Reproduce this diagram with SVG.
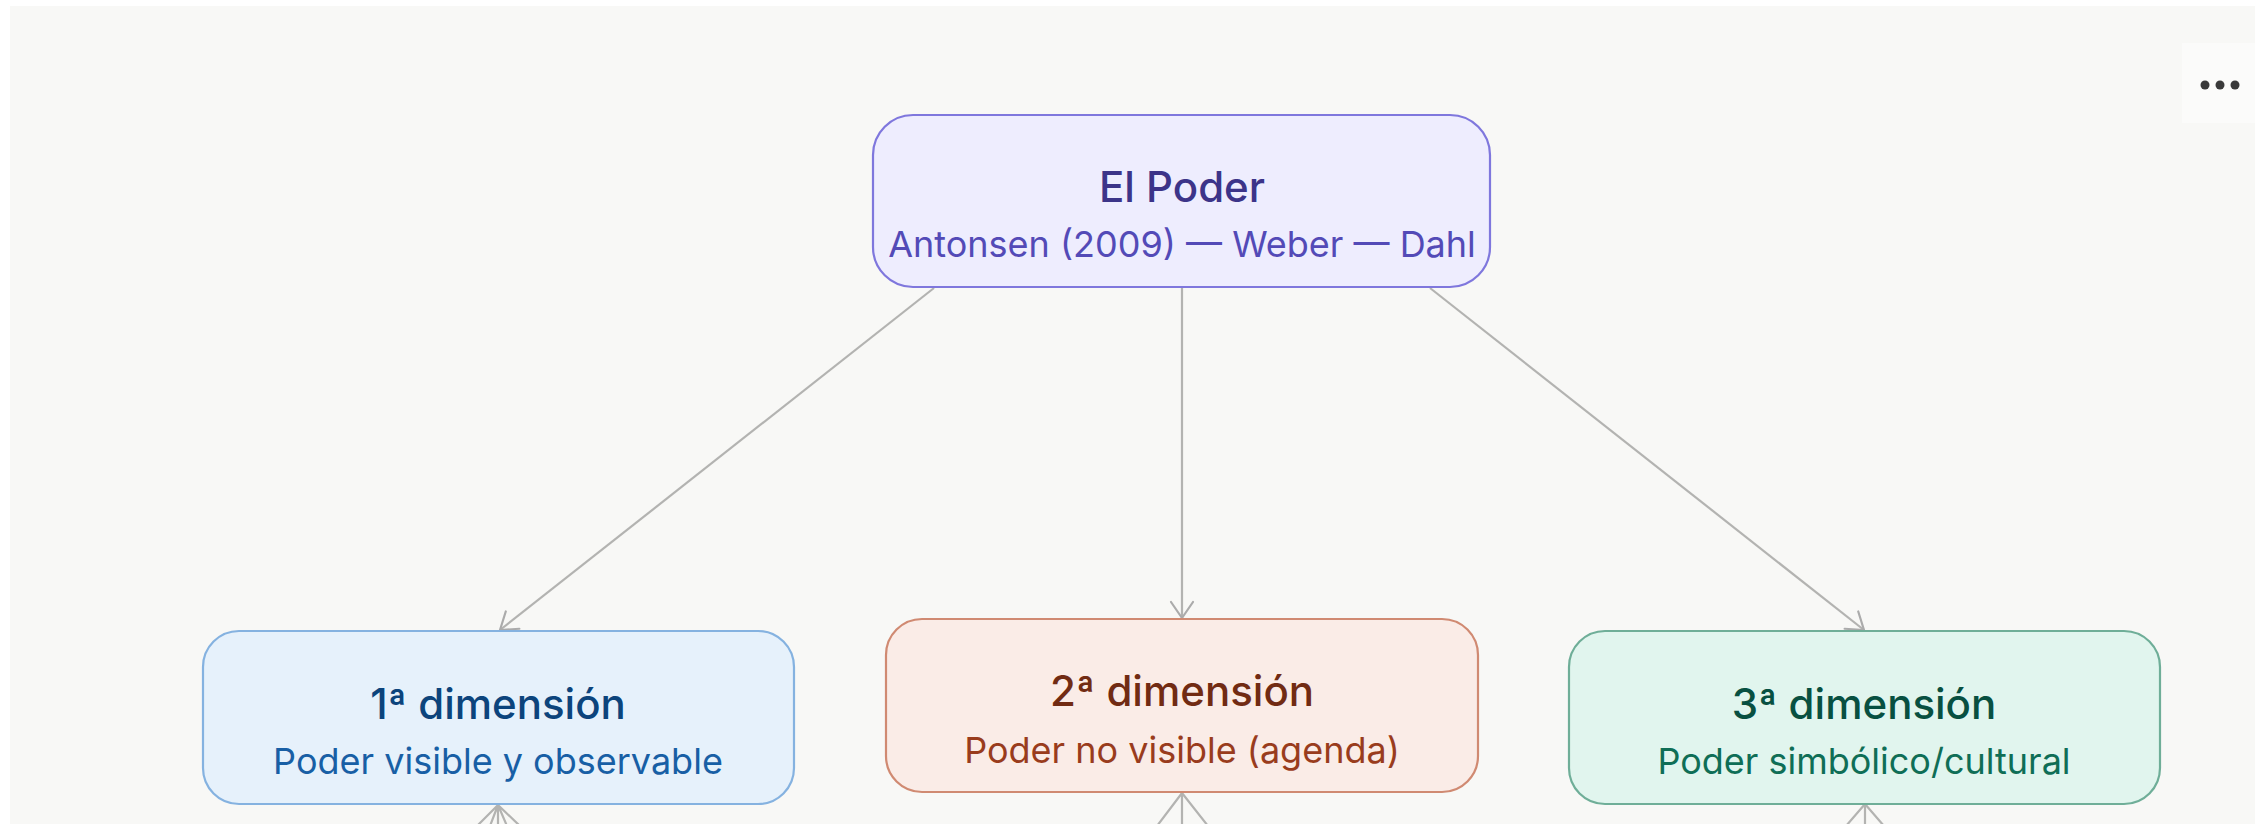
<svg xmlns="http://www.w3.org/2000/svg" width="2255" height="824" viewBox="0 0 2255 824">
  <defs>
    <marker id="arrow" viewBox="-20 -14 24 28" refX="0" refY="0" markerWidth="24" markerHeight="28" markerUnits="userSpaceOnUse" orient="auto">
      <path d="M-16,-11 L0,0 L-16,11" fill="none" stroke="#ababab" stroke-width="2.2" stroke-linecap="round" stroke-linejoin="round"/>
    </marker>
    <style>
      .edge { stroke: #b3b3b1; stroke-width: 2.2; fill: none; }
      .title { font-family: Inter, "DejaVu Sans", "Liberation Sans", sans-serif; font-size: 42px; font-weight: 500; text-anchor: middle; }
      .sub { font-family: Inter, "DejaVu Sans", "Liberation Sans", sans-serif; font-size: 36px; font-weight: 400; text-anchor: middle; }
      .box { stroke-width: 2.2; }
    </style>
  </defs>
  <rect x="0" y="0" width="2255" height="824" fill="#ffffff"/>
  <rect x="10" y="6" width="2245" height="818" fill="#f8f8f6"/>
  <g id="menu">
    <rect x="2182" y="43" width="73" height="80" fill="#fbfbfa"/>
    <circle cx="2205" cy="85" r="4.5" fill="#3a3a3a"/>
    <circle cx="2220" cy="85" r="4.5" fill="#3a3a3a"/>
    <circle cx="2235" cy="85" r="4.5" fill="#3a3a3a"/>
  </g>
  <g id="connectors">
    <line class="edge" x1="934" y1="288" x2="500" y2="630" marker-end="url(#arrow)"/>
    <line class="edge" x1="1182" y1="288" x2="1182" y2="618" marker-end="url(#arrow)"/>
    <line class="edge" x1="1430" y1="288" x2="1864" y2="630" marker-end="url(#arrow)"/>
    <path class="edge" d="M498,805 L477,826 M498,805 L490,826 M498,805 L498,826 M498,805 L507,826 M498,805 L520,826"/>
    <path class="edge" d="M1182,793 L1157,826 M1182,793 L1182,826 M1182,793 L1208,826"/>
    <path class="edge" d="M1865,804 L1846,826 M1865,804 L1865,826 M1865,804 L1884,826"/>
  </g>
  <g id="node-poder">
    <rect class="box" x="873" y="115" width="617" height="172" rx="40" fill="#eeedfe" stroke="#7f77dd"/>
    <text class="title" x="1182" y="202" fill="#3c3489">El Poder</text>
    <text class="sub" x="1182" y="257" fill="#534ab7">Antonsen (2009) — Weber — Dahl</text>
  </g>
  <g id="node-dim1">
    <rect class="box" x="203" y="631" width="591" height="173" rx="36" fill="#e6f1fb" stroke="#85b2e0"/>
    <text class="title" x="498" y="719" fill="#0c447c">1ª dimensión</text>
    <text class="sub" x="498" y="774" fill="#185fa5">Poder visible y observable</text>
  </g>
  <g id="node-dim2">
    <rect class="box" x="886" y="619" width="592" height="173" rx="36" fill="#faece7" stroke="#d08a72"/>
    <text class="title" x="1182" y="706" fill="#712b13">2ª dimensión</text>
    <text class="sub" x="1182" y="763" fill="#993c1d">Poder no visible (agenda)</text>
  </g>
  <g id="node-dim3">
    <rect class="box" x="1569" y="631" width="591" height="173" rx="36" fill="#e1f5ee" stroke="#6fae98"/>
    <text class="title" x="1864" y="719" fill="#085041">3ª dimensión</text>
    <text class="sub" x="1864" y="774" fill="#0f6e56">Poder simbólico/cultural</text>
  </g>
</svg>
